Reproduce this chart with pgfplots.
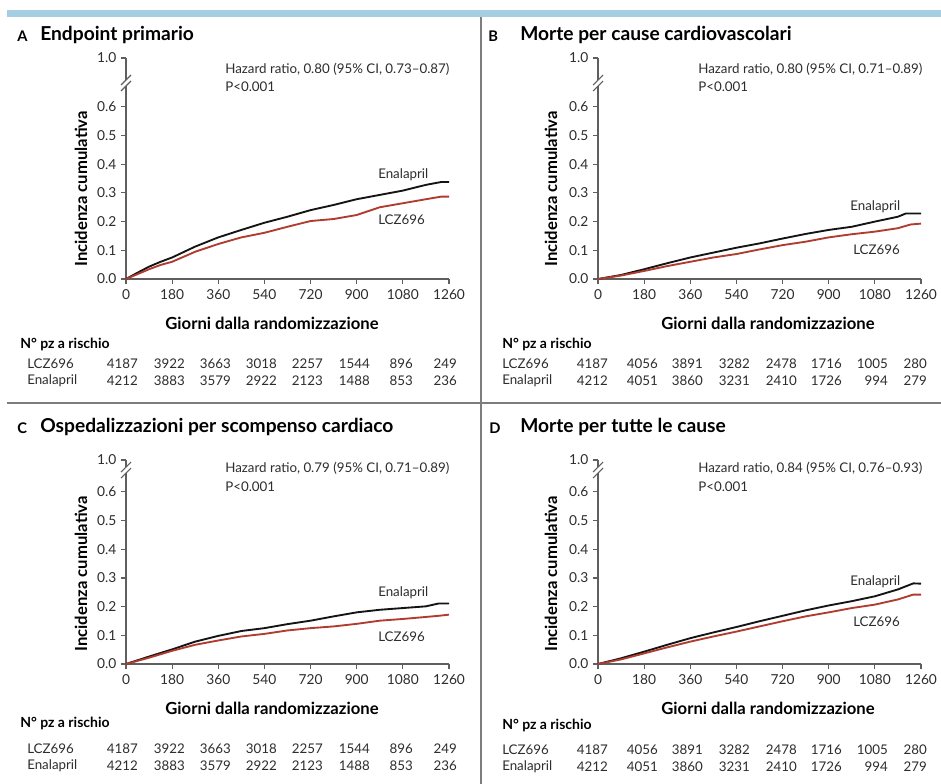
\documentclass[border=0pt]{standalone}
\usepackage{fontspec}
\setmainfont{Lato}
\usepackage{pgfplots}
\usepackage{pgfplotstable}
\pgfplotsset{compat=1.18}
\definecolor{nejmblue}{RGB}{166,206,227}
\definecolor{sepgray}{RGB}{125,125,125}
\definecolor{axgray}{RGB}{95,95,95}
\definecolor{lczred}{RGB}{176,60,48}
\definecolor{txt}{RGB}{45,45,45}

\pgfplotstableread{
t ena lcz
0 0 0
45 0.022 0.017
90 0.043 0.034
135 0.060 0.049
180 0.075 0.060
270 0.113 0.095
360 0.145 0.122
450 0.171 0.145
540 0.196 0.161
630 0.217 0.182
720 0.240 0.202
810 0.258 0.209
900 0.278 0.223
990 0.293 0.250
1080 0.308 0.264
1170 0.328 0.278
1230 0.338 0.287
1260 0.338 0.287
}\tabA
\pgfplotstableread{
t ena lcz
0 0 0
90 0.014 0.012
180 0.034 0.028
270 0.055 0.045
360 0.075 0.060
450 0.092 0.075
540 0.109 0.087
630 0.124 0.103
720 0.141 0.118
810 0.157 0.130
900 0.171 0.145
990 0.182 0.156
1080 0.200 0.165
1170 0.217 0.177
1200 0.228 0.185
1220 0.228 0.190
1260 0.228 0.193
}\tabB
\pgfplotstableread{
t ena lcz
0 0 0
90 0.026 0.022
180 0.051 0.046
270 0.078 0.067
360 0.098 0.082
450 0.115 0.096
540 0.125 0.105
630 0.139 0.117
720 0.151 0.125
810 0.166 0.131
900 0.180 0.140
990 0.189 0.151
1080 0.195 0.157
1170 0.201 0.164
1220 0.211 0.168
1260 0.211 0.172
}\tabC
\pgfplotstableread{
t ena lcz
0 0 0
90 0.020 0.016
180 0.043 0.037
270 0.067 0.058
360 0.090 0.078
450 0.110 0.096
540 0.129 0.113
630 0.149 0.131
720 0.168 0.149
810 0.187 0.166
900 0.204 0.180
990 0.219 0.195
1080 0.236 0.207
1170 0.260 0.225
1230 0.281 0.242
1260 0.280 0.242
}\tabD

\pgfplotsset{
  kmstyle/.style={
    anchor=south west, scale only axis,
    width=242.25pt,
    xmin=0, xmax=1260, ymin=0,
    axis x line*=bottom, axis y line*=left,
    axis line style={axgray, line width=0.9pt, -},
    every tick/.style={axgray, line width=0.9pt},
    major tick length=3.75pt, tick align=outside,
    xtick={0,180,360,540,720,900,1080,1260},
    xticklabels={0,180,360,540,720,900,1080,1260},
    yticklabels={0.0,0.1,0.2,0.3,0.4,0.5,0.6,1.0},
    tick label style={font=\fontsize{10.3}{11}\selectfont, text=txt},
    xticklabel style={yshift=-0.5pt},
    clip=false,
  }
}
\newcommand{\kmaxis}[5]{%
\begin{axis}[kmstyle, at={({0.75pt*#1},{-0.75pt*#2})}, height=#3, ymax=#4,
  ytick={0,0.1,0.2,0.3,0.4,0.5,0.6,#4}]
\addplot[black!92, line width=1.4pt] table[x=t,y=ena]{#5};
\addplot[lczred, line width=1.4pt] table[x=t,y=lcz]{#5};
\end{axis}}
\newcommand{\brk}[2]{%
\fill[white] (#1-2.5,#2-3) rectangle (#1+2.5,#2+3);
\draw[axgray, line width=0.8pt] (#1-5,#2+2) -- (#1+5,#2-8);
\draw[axgray, line width=0.8pt] (#1-5,#2+8) -- (#1+5,#2-2);}

\tikzset{t/.style={inner sep=0pt, text=txt, font=\fontsize{10}{11}\selectfont},
  ttl/.style={inner sep=0pt, text=black, font=\fontsize{14.4}{16}\bfseries},
  let/.style={inner sep=0pt, text=black, font=\fontsize{11}{12}\bfseries},
  lab/.style={inner sep=0pt, text=black, font=\fontsize{12.5}{14}\bfseries},
  nr/.style={inner sep=0pt, text=black, font=\fontsize{10.5}{12}\bfseries}}

\newcommand{\risk}[6]{% #1 y1, #2 y2, #3 xstart label, #4 col offset, #5 row1 list, #6 row2 list
\node[t, anchor=west] at (#3,#1) {LCZ696};
\node[t, anchor=west] at (#3,#2) {Enalapril};
\foreach \xx/\v in {#5} {\node[t, anchor=east] at (\xx+#4,#1) {\v};}
\foreach \xx/\v in {#6} {\node[t, anchor=east] at (\xx+#4,#2) {\v};}
}

\begin{document}
\begin{tikzpicture}[x=0.75pt, y=-0.75pt]
\useasboundingbox (0,0) rectangle (941,784);
\fill[white] (0,0) rectangle (941,784);
\fill[nejmblue] (7,10) rectangle (941,17);
\draw[sepgray, line width=1.5pt] (481,17) -- (481,784);
\draw[sepgray, line width=1.5pt] (7,403) -- (941,403);

% ---------- Panel A
\kmaxis{126}{279}{165.75pt}{0.770}{\tabA}
\brk{126}{83}
\node[let, anchor=west] at (17,36) {A};
\node[ttl, anchor=west] at (40,35) {Endpoint primario};
\node[t, anchor=west] at (225,69) {Hazard ratio, 0.80 (95\% CI, 0.73–0.87)};
\node[t, anchor=west] at (225,87) {P<0.001};
\node[lab, rotate=90] at (81,189) {Incidenza cumulativa};
\node[lab] at (272,323) {Giorni dalla randomizzazione};
\node[t, anchor=west] at (378,175) {Enalapril};
\node[t, anchor=west] at (378,220) {LCZ696};
\node[nr, anchor=west] at (20,344) {N° pz a rischio};
\risk{364}{381}{27}{0}{138/4187,185/3922,231/3663,277/3018,323/2257,370/1544,413/896,457/249}{138/4212,185/3883,231/3579,277/2922,323/2123,370/1488,413/853,457/236}

% ---------- Panel B
\kmaxis{598}{279}{165.75pt}{0.770}{\tabB}
\brk{598}{83}
\node[let, anchor=west] at (488,36) {B};
\node[ttl, anchor=west] at (520,35) {Morte per cause cardiovascolari};
\node[t, anchor=west] at (698,69) {Hazard ratio, 0.80 (95\% CI, 0.71–0.89)};
\node[t, anchor=west] at (698,87) {P<0.001};
\node[lab, rotate=90] at (551,189) {Incidenza cumulativa};
\node[lab] at (768,323) {Giorni dalla randomizzazione};
\node[t, anchor=west] at (850,207) {Enalapril};
\node[t, anchor=west] at (853,250) {LCZ696};
\node[nr, anchor=west] at (502,344) {N° pz a rischio};
\risk{364}{381}{502}{0}{608/4187,658/4056,703/3891,750/3282,797/2478,842/1716,888/1005,927/280}{608/4212,658/4051,703/3860,750/3231,797/2410,842/1726,888/994,927/279}

% ---------- Panel C
\kmaxis{126}{664}{153pt}{0.711}{\tabC}
\brk{126}{470}
\node[let, anchor=west] at (17,428) {C};
\node[ttl, anchor=west] at (40,427) {Ospedalizzazioni per scompenso cardiaco};
\node[t, anchor=west] at (225,468) {Hazard ratio, 0.79 (95\% CI, 0.71–0.89)};
\node[t, anchor=west] at (225,487) {P<0.001};
\node[lab, rotate=90] at (81,574) {Incidenza cumulativa};
\node[lab] at (272,708) {Giorni dalla randomizzazione};
\node[t, anchor=west] at (378,593) {Enalapril};
\node[t, anchor=west] at (378,637) {LCZ696};
\node[nr, anchor=west] at (20,723) {N° pz a rischio};
\risk{749}{766}{27}{0}{138/4187,185/3922,231/3663,277/3018,323/2257,370/1544,413/896,457/249}{138/4212,185/3883,231/3579,277/2922,323/2123,370/1488,413/853,457/236}

% ---------- Panel D
\kmaxis{598}{664}{153pt}{0.711}{\tabD}
\brk{598}{470}
\node[let, anchor=west] at (489,428) {D};
\node[ttl, anchor=west] at (520,427) {Morte per tutte le cause};
\node[t, anchor=west] at (698,468) {Hazard ratio, 0.84 (95\% CI, 0.76–0.93)};
\node[t, anchor=west] at (698,487) {P<0.001};
\node[lab, rotate=90] at (551,574) {Incidenza cumulativa};
\node[lab] at (768,708) {Giorni dalla randomizzazione};
\node[t, anchor=west] at (850,582) {Enalapril};
\node[t, anchor=west] at (853,622) {LCZ696};
\node[nr, anchor=west] at (502,725) {N° pz a rischio};
\risk{750}{767}{502}{0}{608/4187,658/4056,703/3891,750/3282,797/2478,842/1716,888/1005,927/280}{608/4212,658/4051,703/3860,750/3231,797/2410,842/1726,888/994,927/279}
\end{tikzpicture}
\end{document}
